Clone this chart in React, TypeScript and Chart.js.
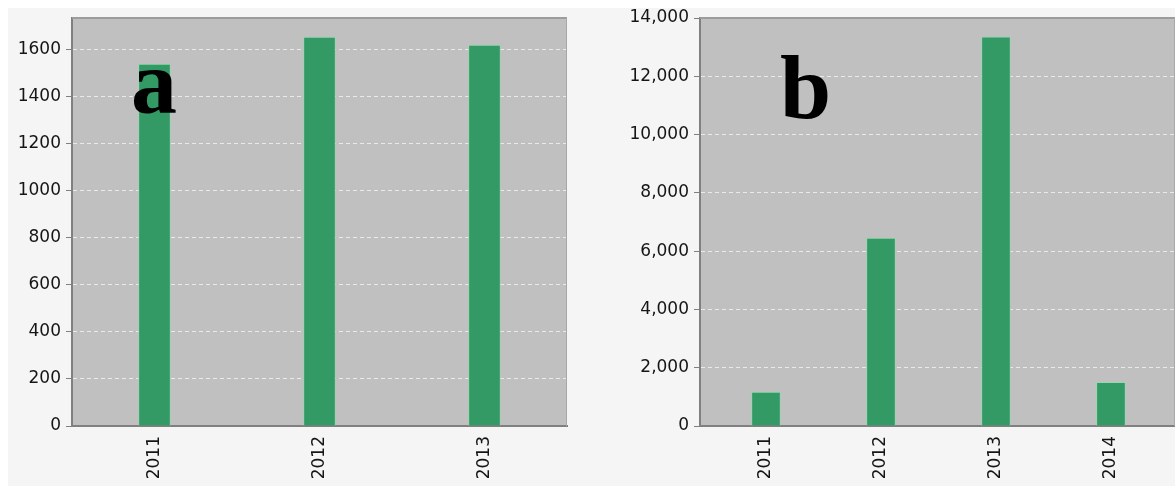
import React, { useEffect, useRef } from "react";
import { Chart, registerables } from "chart.js";

Chart.register(...registerables);

// Panel a: yearly totals
const yearsA = ["2011", "2012", "2013"];
const valuesA = [1537, 1652, 1618];
const yMaxA = 1733;
const yStepA = 200;

// Panel b: yearly totals
const yearsB = ["2011", "2012", "2013", "2014"];
const valuesB = [1167, 6450, 13350, 1500];
const yMaxB = 14000;
const yStepB = 2000;
const xMinB = 2010.426;
const xMaxB = 2014.557;

const FONT = "'DejaVu Sans', Verdana, sans-serif";
const TICK_COLOR = "#151515";
const BAR_FILL = "#339a66";
const BAR_EDGE = "rgba(150,215,175,0.9)";

// Fills the plot area and draws the top/right frame lines
const plotFrame = {
  id: "plotFrame",
  beforeDraw(chart: any) {
    const { ctx, chartArea: a } = chart;
    ctx.save();
    ctx.fillStyle = "#c0c0c0";
    ctx.fillRect(a.left, a.top, a.right - a.left, a.bottom - a.top);
    ctx.restore();
  },
  afterDraw(chart: any) {
    const { ctx, chartArea: a } = chart;
    ctx.save();
    ctx.strokeStyle = "#9c9c9c";
    ctx.lineWidth = 2;
    ctx.beginPath();
    ctx.moveTo(a.left, a.top);
    ctx.lineTo(a.right, a.top);
    ctx.stroke();
    ctx.strokeStyle = "#a8a8a8";
    ctx.lineWidth = 1;
    ctx.beginPath();
    ctx.moveTo(a.right - 0.5, a.top);
    ctx.lineTo(a.right - 0.5, a.bottom);
    ctx.stroke();
    ctx.restore();
  },
};

function yAxis(max: number, step: number, fmt: (v: number) => string, width: number) {
  return {
    min: 0,
    max,
    afterFit(scale: any) {
      scale.width = width;
      scale.paddingTop = 0;
      scale.paddingBottom = 0;
    },
    ticks: {
      stepSize: step,
      includeBounds: false,
      color: TICK_COLOR,
      font: { family: FONT, size: 17 },
      padding: 5,
      callback: (v: any) => fmt(Number(v)),
    },
    grid: {
      color: "rgba(238,238,238,0.9)",
      lineWidth: 1,
      tickColor: "#808080",
      tickLength: 6,
    },
    border: { color: "#808080", width: 2, dash: [4, 3] },
  };
}

const xTicks = {
  color: TICK_COLOR,
  font: { family: FONT, size: 17 },
  minRotation: 90,
  maxRotation: 90,
  autoSkip: false,
  padding: 10,
};

function BarPanel({
  width,
  height,
  config,
  style,
}: {
  width: number;
  height: number;
  config: () => any;
  style: React.CSSProperties;
}) {
  const ref = useRef<HTMLCanvasElement>(null);
  useEffect(() => {
    if (!ref.current) return;
    const chart = new Chart(ref.current, config());
    return () => chart.destroy();
  }, []);
  return (
    <canvas
      ref={ref}
      width={width}
      height={height}
      style={{ position: "absolute", width, height, ...style }}
    />
  );
}

const configA = () => ({
  type: "bar",
  data: {
    labels: yearsA,
    datasets: [
      {
        data: valuesA,
        backgroundColor: BAR_FILL,
        borderColor: BAR_EDGE,
        borderWidth: 1,
        barThickness: 32,
      },
    ],
  },
  options: {
    responsive: false,
    animation: false,
    layout: { padding: { top: 10, right: 13, left: 0, bottom: 0 } },
    plugins: { legend: { display: false }, tooltip: { enabled: false } },
    scales: {
      x: {
        afterFit(scale: any) {
          scale.height = 60;
          scale.paddingLeft = 0;
          scale.paddingRight = 0;
        },
        ticks: xTicks,
        grid: { display: false, drawTicks: false },
        border: { color: "#808080", width: 2 },
      },
      y: yAxis(yMaxA, yStepA, (v) => String(v), 64),
    },
  },
  plugins: [plotFrame],
});

const configB = () => ({
  type: "bar",
  data: {
    datasets: [
      {
        data: yearsB.map((yr, i) => ({ x: Number(yr), y: valuesB[i] })),
        backgroundColor: BAR_FILL,
        borderColor: BAR_EDGE,
        borderWidth: 1,
        barThickness: 29,
      },
    ],
  },
  options: {
    responsive: false,
    animation: false,
    layout: { padding: { top: 10, right: 0, left: 0, bottom: 0 } },
    plugins: { legend: { display: false }, tooltip: { enabled: false } },
    scales: {
      x: {
        type: "linear",
        min: xMinB,
        max: xMaxB,
        offset: false,
        afterFit(scale: any) {
          scale.height = 60;
          scale.paddingLeft = 0;
          scale.paddingRight = 0;
        },
        afterBuildTicks(scale: any) {
          scale.ticks = yearsB.map((yr) => ({ value: Number(yr) }));
        },
        ticks: { ...xTicks, callback: (v: any) => String(v) },
        grid: { display: false, drawTicks: false },
        border: { color: "#808080", width: 2 },
      },
      y: yAxis(yMaxB, yStepB, (v) => v.toLocaleString("en-US"), 120),
    },
  },
  plugins: [plotFrame],
});

const letterStyle: React.CSSProperties = {
  position: "absolute",
  fontFamily: "'Liberation Serif', 'Times New Roman', serif",
  fontWeight: "bold",
  fontSize: 92,
  lineHeight: 1,
  color: "#000",
  margin: 0,
};

export default function App() {
  return (
    <div
      style={{
        position: "absolute",
        left: 8,
        top: 8,
        width: 1167,
        height: 478,
        background: "#f5f5f5",
        overflow: "hidden",
      }}
    >
      <BarPanel width={572} height={478} config={configA} style={{ left: 0, top: 0 }} />
      <BarPanel width={595} height={478} config={configB} style={{ left: 572, top: 0 }} />
      <div style={{ ...letterStyle, left: 123, top: 28 }}>a</div>
      <div style={{ ...letterStyle, left: 772, top: 33 }}>b</div>
    </div>
  );
}
